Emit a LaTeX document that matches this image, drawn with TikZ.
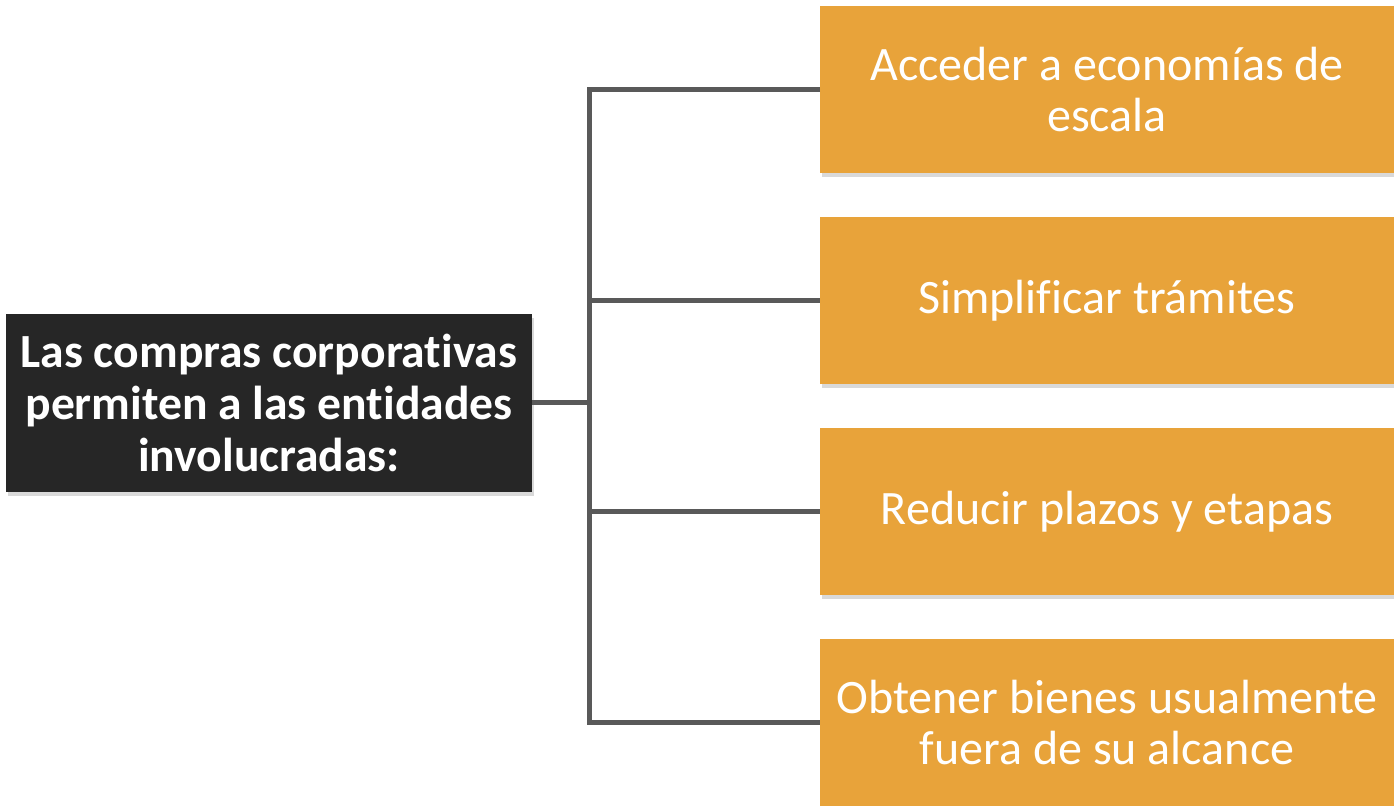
\documentclass[tikz,border=0pt]{standalone}
\usepackage{fontspec}
\setmainfont{Carlito}[Ligatures=NoCommon]
\usetikzlibrary{shadows}
\definecolor{leadgray}{HTML}{262626}
\definecolor{goalorange}{HTML}{E8A33A}
\definecolor{linkgray}{HTML}{595959}
\tikzstyle{box}=[inner sep=0, outer sep=0, align=center, text=white,
                 font=\fontsize{24}{25.5}\selectfont,
                 % Soft shadow under every box.
                 drop shadow={shadow xshift=0.8pt, shadow yshift=-2pt, opacity=0.3}]
\tikzstyle{leadbox}=[box, fill=leadgray, minimum width=263pt, minimum height=89pt,
                     font=\bfseries\fontsize{23.8}{26}\selectfont]
\tikzstyle{goalbox}=[box, fill=goalorange, minimum width=287pt, minimum height=83.5pt]
\tikzstyle{link}=[draw=linkgray, line width=2.5pt]

\begin{document}
\begin{tikzpicture}[x=0.5pt, y=-0.5pt]
        \useasboundingbox (0, 0) rectangle (1394, 806);
        \node[leadbox] (lead) at (269, 403) {Las compras corporativas\\permiten a las entidades\\involucradas:};
        \node[goalbox] (G1) at (1107, 89.5) {Acceder a economías de\\escala};
        \node[goalbox] (G2) at (1107, 300.5) {Simplificar trámites};
        \node[goalbox] (G3) at (1107, 511.5) {Reducir plazos y etapas};
        \node[goalbox] (G4) at (1107, 722.5) {Obtener bienes usualmente\\fuera de su alcance};
        \coordinate (J) at (589.5, 403);
        \draw[link] (lead.east) -- (J);
        \draw[link] (G1.west) -- (J |- G1.west) -- (J |- G4.west) -- (G4.west);
        \draw[link] (J |- G2.west) -- (G2.west);
        \draw[link] (J |- G3.west) -- (G3.west);
    \end{tikzpicture}
\end{document}
